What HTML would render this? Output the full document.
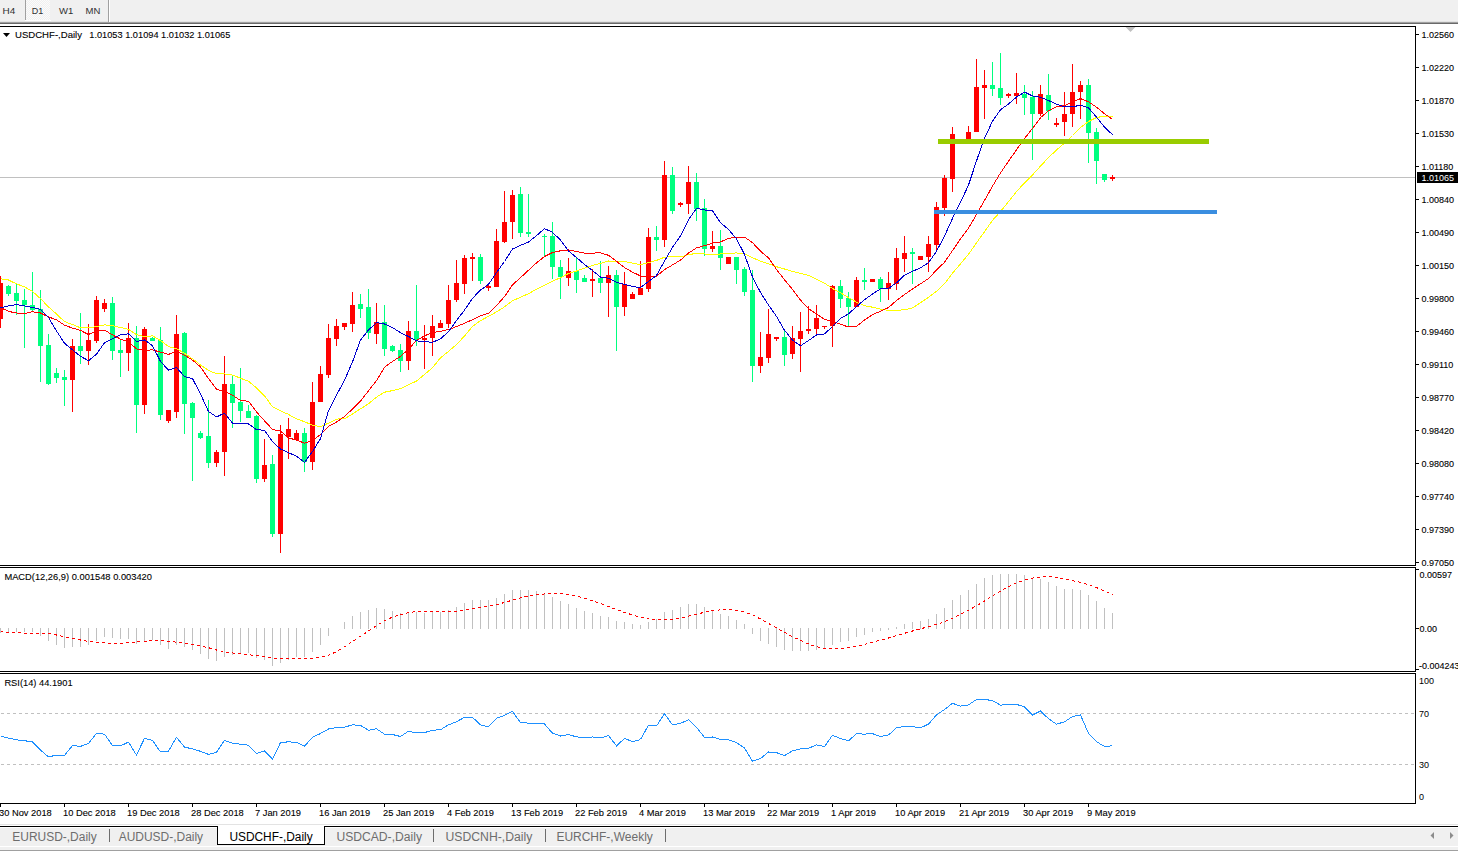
<!DOCTYPE html>
<html><head><meta charset="utf-8"><title>USDCHF Daily</title>
<style>html,body{margin:0;padding:0;background:#fff;width:1458px;height:851px;overflow:hidden} svg{display:block}</style>
</head><body><svg width="1458" height="851" viewBox="0 0 1458 851"><rect x="0" y="0" width="1458" height="851" fill="#ffffff"/>
<rect x="0" y="0" width="1458" height="21" fill="#f0f0f0"/>
<rect x="0" y="21" width="1458" height="1" fill="#e3e3e3"/>
<rect x="0" y="22" width="1458" height="1" fill="#a0a0a0"/>
<rect x="0" y="23" width="1458" height="1" fill="#696969"/>
<defs><pattern id="dith" width="2" height="2" patternUnits="userSpaceOnUse"><rect width="2" height="2" fill="#f0f0f0"/><rect width="1" height="1" fill="#fbfbfb"/><rect x="1" y="1" width="1" height="1" fill="#fbfbfb"/></pattern></defs>
<rect x="26" y="0" width="24" height="20" fill="url(#dith)"/>
<rect x="25" y="0" width="1" height="20" fill="#a0a0a0"/>
<rect x="25" y="20" width="26" height="1" fill="#ffffff"/>
<rect x="108" y="0" width="1" height="22" fill="#a0a0a0"/>
<rect x="109" y="0" width="1" height="22" fill="#ffffff"/>
<text x="2.5" y="14" font-family="Liberation Sans" font-size="9.6" fill="#303030" textLength="12.7" lengthAdjust="spacingAndGlyphs">H4</text>
<text x="31.7" y="14" font-family="Liberation Sans" font-size="9.6" fill="#303030" textLength="11.5" lengthAdjust="spacingAndGlyphs">D1</text>
<text x="59" y="14" font-family="Liberation Sans" font-size="9.6" fill="#303030" textLength="14.3" lengthAdjust="spacingAndGlyphs">W1</text>
<text x="85.6" y="14" font-family="Liberation Sans" font-size="9.6" fill="#303030" textLength="14.8" lengthAdjust="spacingAndGlyphs">MN</text>
<rect x="0" y="26" width="1416" height="1" fill="#000"/>
<rect x="1415" y="26" width="1" height="540" fill="#000"/>
<rect x="0" y="565" width="1416" height="1" fill="#000"/>
<rect x="0" y="567" width="1416" height="1" fill="#000"/>
<rect x="1415" y="567" width="1" height="105" fill="#000"/>
<rect x="0" y="671" width="1416" height="1" fill="#000"/>
<rect x="0" y="673" width="1416" height="1" fill="#000"/>
<rect x="1415" y="673" width="1" height="131" fill="#000"/>
<rect x="0" y="803" width="1416" height="1" fill="#000"/>
<polygon points="1125.5,27 1135.5,27 1130.5,32" fill="#c0c0c0"/>
<polygon points="3,33 10,33 6.5,37" fill="#000"/>
<text x="15" y="38" font-family="Liberation Sans" font-size="9.6" fill="#000" stroke="#000" stroke-width="0.1" textLength="67" lengthAdjust="spacingAndGlyphs">USDCHF-,Daily</text>
<text x="89.3" y="38" font-family="Liberation Sans" font-size="9.3" fill="#000" stroke="#000" stroke-width="0.1" textLength="141" lengthAdjust="spacingAndGlyphs">1.01053 1.01094 1.01032 1.01065</text>
<rect x="1416" y="34" width="3" height="1" fill="#000"/>
<text x="1421.5" y="37.5" font-family="Liberation Sans" font-size="9" fill="#000" stroke="#000" stroke-width="0.1">1.02560</text>
<rect x="1416" y="67" width="3" height="1" fill="#000"/>
<text x="1421.5" y="70.5" font-family="Liberation Sans" font-size="9" fill="#000" stroke="#000" stroke-width="0.1">1.02220</text>
<rect x="1416" y="100" width="3" height="1" fill="#000"/>
<text x="1421.5" y="103.5" font-family="Liberation Sans" font-size="9" fill="#000" stroke="#000" stroke-width="0.1">1.01870</text>
<rect x="1416" y="133" width="3" height="1" fill="#000"/>
<text x="1421.5" y="136.5" font-family="Liberation Sans" font-size="9" fill="#000" stroke="#000" stroke-width="0.1">1.01530</text>
<rect x="1416" y="166" width="3" height="1" fill="#000"/>
<text x="1421.5" y="169.5" font-family="Liberation Sans" font-size="9" fill="#000" stroke="#000" stroke-width="0.1">1.01180</text>
<rect x="1416" y="199" width="3" height="1" fill="#000"/>
<text x="1421.5" y="202.5" font-family="Liberation Sans" font-size="9" fill="#000" stroke="#000" stroke-width="0.1">1.00840</text>
<rect x="1416" y="232" width="3" height="1" fill="#000"/>
<text x="1421.5" y="235.5" font-family="Liberation Sans" font-size="9" fill="#000" stroke="#000" stroke-width="0.1">1.00490</text>
<rect x="1416" y="265" width="3" height="1" fill="#000"/>
<text x="1421.5" y="268.5" font-family="Liberation Sans" font-size="9" fill="#000" stroke="#000" stroke-width="0.1">1.00150</text>
<rect x="1416" y="298" width="3" height="1" fill="#000"/>
<text x="1421.5" y="301.5" font-family="Liberation Sans" font-size="9" fill="#000" stroke="#000" stroke-width="0.1">0.99800</text>
<rect x="1416" y="331" width="3" height="1" fill="#000"/>
<text x="1421.5" y="334.5" font-family="Liberation Sans" font-size="9" fill="#000" stroke="#000" stroke-width="0.1">0.99460</text>
<rect x="1416" y="364" width="3" height="1" fill="#000"/>
<text x="1421.5" y="367.5" font-family="Liberation Sans" font-size="9" fill="#000" stroke="#000" stroke-width="0.1">0.99110</text>
<rect x="1416" y="397" width="3" height="1" fill="#000"/>
<text x="1421.5" y="400.5" font-family="Liberation Sans" font-size="9" fill="#000" stroke="#000" stroke-width="0.1">0.98770</text>
<rect x="1416" y="430" width="3" height="1" fill="#000"/>
<text x="1421.5" y="433.5" font-family="Liberation Sans" font-size="9" fill="#000" stroke="#000" stroke-width="0.1">0.98420</text>
<rect x="1416" y="463" width="3" height="1" fill="#000"/>
<text x="1421.5" y="466.5" font-family="Liberation Sans" font-size="9" fill="#000" stroke="#000" stroke-width="0.1">0.98080</text>
<rect x="1416" y="496" width="3" height="1" fill="#000"/>
<text x="1421.5" y="499.5" font-family="Liberation Sans" font-size="9" fill="#000" stroke="#000" stroke-width="0.1">0.97740</text>
<rect x="1416" y="529" width="3" height="1" fill="#000"/>
<text x="1421.5" y="532.5" font-family="Liberation Sans" font-size="9" fill="#000" stroke="#000" stroke-width="0.1">0.97390</text>
<rect x="1416" y="562" width="3" height="1" fill="#000"/>
<text x="1421.5" y="565.5" font-family="Liberation Sans" font-size="9" fill="#000" stroke="#000" stroke-width="0.1">0.97050</text>
<rect x="0" y="177" width="1415" height="1" fill="#c0c0c0"/>
<g shape-rendering="crispEdges"><rect x="0" y="276" width="1" height="52" fill="#ff0000"/><rect x="-2" y="283" width="5" height="36" fill="#ff0000"/><rect x="8" y="285" width="1" height="11" fill="#00ff7f"/><rect x="6" y="286" width="5" height="8" fill="#00ff7f"/><rect x="16" y="284" width="1" height="31" fill="#00ff7f"/><rect x="14" y="293" width="5" height="8" fill="#00ff7f"/><rect x="24" y="289" width="1" height="59" fill="#00ff7f"/><rect x="22" y="300" width="5" height="5" fill="#00ff7f"/><rect x="32" y="272" width="1" height="39" fill="#00ff7f"/><rect x="30" y="305" width="5" height="5" fill="#00ff7f"/><rect x="40" y="290" width="1" height="92" fill="#00ff7f"/><rect x="38" y="309" width="5" height="37" fill="#00ff7f"/><rect x="48" y="334" width="1" height="51" fill="#00ff7f"/><rect x="46" y="345" width="5" height="39" fill="#00ff7f"/><rect x="56" y="368" width="1" height="15" fill="#00ff7f"/><rect x="54" y="373" width="5" height="5" fill="#00ff7f"/><rect x="64" y="370" width="1" height="36" fill="#00ff7f"/><rect x="62" y="377" width="5" height="3" fill="#00ff7f"/><rect x="72" y="339" width="1" height="73" fill="#ff0000"/><rect x="70" y="346" width="5" height="34" fill="#ff0000"/><rect x="80" y="313" width="1" height="51" fill="#00ff7f"/><rect x="78" y="346" width="5" height="5" fill="#00ff7f"/><rect x="88" y="324" width="1" height="41" fill="#ff0000"/><rect x="86" y="340" width="5" height="11" fill="#ff0000"/><rect x="96" y="296" width="1" height="47" fill="#ff0000"/><rect x="94" y="300" width="5" height="41" fill="#ff0000"/><rect x="104" y="299" width="1" height="13" fill="#ff0000"/><rect x="102" y="303" width="5" height="6" fill="#ff0000"/><rect x="112" y="297" width="1" height="63" fill="#00ff7f"/><rect x="110" y="303" width="5" height="48" fill="#00ff7f"/><rect x="120" y="340" width="1" height="37" fill="#00ff7f"/><rect x="118" y="350" width="5" height="3" fill="#00ff7f"/><rect x="128" y="323" width="1" height="48" fill="#ff0000"/><rect x="126" y="338" width="5" height="15" fill="#ff0000"/><rect x="136" y="326" width="1" height="107" fill="#00ff7f"/><rect x="134" y="338" width="5" height="67" fill="#00ff7f"/><rect x="144" y="327" width="1" height="87" fill="#ff0000"/><rect x="142" y="329" width="5" height="76" fill="#ff0000"/><rect x="152" y="337" width="1" height="4" fill="#00ff7f"/><rect x="150" y="338" width="5" height="3" fill="#00ff7f"/><rect x="160" y="327" width="1" height="93" fill="#00ff7f"/><rect x="158" y="340" width="5" height="75" fill="#00ff7f"/><rect x="168" y="410" width="1" height="13" fill="#ff0000"/><rect x="166" y="410" width="5" height="11" fill="#ff0000"/><rect x="176" y="315" width="1" height="103" fill="#ff0000"/><rect x="174" y="334" width="5" height="78" fill="#ff0000"/><rect x="184" y="332" width="1" height="102" fill="#00ff7f"/><rect x="182" y="333" width="5" height="71" fill="#00ff7f"/><rect x="192" y="402" width="1" height="79" fill="#00ff7f"/><rect x="190" y="403" width="5" height="15" fill="#00ff7f"/><rect x="200" y="431" width="1" height="8" fill="#00ff7f"/><rect x="198" y="433" width="5" height="5" fill="#00ff7f"/><rect x="208" y="400" width="1" height="68" fill="#00ff7f"/><rect x="206" y="436" width="5" height="27" fill="#00ff7f"/><rect x="216" y="450" width="1" height="17" fill="#ff0000"/><rect x="214" y="452" width="5" height="11" fill="#ff0000"/><rect x="224" y="356" width="1" height="120" fill="#ff0000"/><rect x="222" y="384" width="5" height="68" fill="#ff0000"/><rect x="232" y="376" width="1" height="52" fill="#00ff7f"/><rect x="230" y="384" width="5" height="19" fill="#00ff7f"/><rect x="240" y="368" width="1" height="54" fill="#00ff7f"/><rect x="238" y="402" width="5" height="9" fill="#00ff7f"/><rect x="248" y="405" width="1" height="13" fill="#00ff7f"/><rect x="246" y="411" width="5" height="7" fill="#00ff7f"/><rect x="256" y="415" width="1" height="68" fill="#00ff7f"/><rect x="254" y="416" width="5" height="63" fill="#00ff7f"/><rect x="264" y="439" width="1" height="43" fill="#ff0000"/><rect x="262" y="465" width="5" height="14" fill="#ff0000"/><rect x="272" y="455" width="1" height="82" fill="#00ff7f"/><rect x="270" y="464" width="5" height="70" fill="#00ff7f"/><rect x="280" y="425" width="1" height="128" fill="#ff0000"/><rect x="278" y="434" width="5" height="100" fill="#ff0000"/><rect x="288" y="418" width="1" height="41" fill="#ff0000"/><rect x="286" y="429" width="5" height="8" fill="#ff0000"/><rect x="296" y="430" width="1" height="10" fill="#ff0000"/><rect x="294" y="433" width="5" height="7" fill="#ff0000"/><rect x="304" y="428" width="1" height="44" fill="#00ff7f"/><rect x="302" y="433" width="5" height="29" fill="#00ff7f"/><rect x="312" y="382" width="1" height="88" fill="#ff0000"/><rect x="310" y="402" width="5" height="60" fill="#ff0000"/><rect x="320" y="366" width="1" height="36" fill="#ff0000"/><rect x="318" y="374" width="5" height="28" fill="#ff0000"/><rect x="328" y="324" width="1" height="54" fill="#ff0000"/><rect x="326" y="338" width="5" height="37" fill="#ff0000"/><rect x="336" y="319" width="1" height="27" fill="#ff0000"/><rect x="334" y="326" width="5" height="13" fill="#ff0000"/><rect x="344" y="323" width="1" height="7" fill="#ff0000"/><rect x="342" y="323" width="5" height="4" fill="#ff0000"/><rect x="352" y="292" width="1" height="40" fill="#ff0000"/><rect x="350" y="305" width="5" height="19" fill="#ff0000"/><rect x="360" y="294" width="1" height="24" fill="#00ff7f"/><rect x="358" y="304" width="5" height="5" fill="#00ff7f"/><rect x="368" y="289" width="1" height="50" fill="#00ff7f"/><rect x="366" y="307" width="5" height="26" fill="#00ff7f"/><rect x="376" y="303" width="1" height="41" fill="#ff0000"/><rect x="374" y="322" width="5" height="12" fill="#ff0000"/><rect x="384" y="305" width="1" height="51" fill="#00ff7f"/><rect x="382" y="322" width="5" height="27" fill="#00ff7f"/><rect x="392" y="345" width="1" height="7" fill="#00ff7f"/><rect x="390" y="346" width="5" height="5" fill="#00ff7f"/><rect x="400" y="344" width="1" height="28" fill="#00ff7f"/><rect x="398" y="350" width="5" height="11" fill="#00ff7f"/><rect x="408" y="321" width="1" height="49" fill="#ff0000"/><rect x="406" y="331" width="5" height="30" fill="#ff0000"/><rect x="416" y="285" width="1" height="61" fill="#00ff7f"/><rect x="414" y="331" width="5" height="9" fill="#00ff7f"/><rect x="424" y="325" width="1" height="44" fill="#ff0000"/><rect x="422" y="338" width="5" height="2" fill="#ff0000"/><rect x="432" y="315" width="1" height="41" fill="#ff0000"/><rect x="430" y="326" width="5" height="12" fill="#ff0000"/><rect x="440" y="320" width="1" height="8" fill="#ff0000"/><rect x="438" y="323" width="5" height="5" fill="#ff0000"/><rect x="448" y="285" width="1" height="43" fill="#ff0000"/><rect x="446" y="300" width="5" height="24" fill="#ff0000"/><rect x="456" y="260" width="1" height="42" fill="#ff0000"/><rect x="454" y="283" width="5" height="17" fill="#ff0000"/><rect x="464" y="255" width="1" height="39" fill="#ff0000"/><rect x="462" y="258" width="5" height="26" fill="#ff0000"/><rect x="472" y="253" width="1" height="28" fill="#ff0000"/><rect x="470" y="257" width="5" height="2" fill="#ff0000"/><rect x="480" y="254" width="1" height="30" fill="#00ff7f"/><rect x="478" y="257" width="5" height="24" fill="#00ff7f"/><rect x="488" y="285" width="1" height="6" fill="#ff0000"/><rect x="486" y="286" width="5" height="2" fill="#ff0000"/><rect x="496" y="229" width="1" height="58" fill="#ff0000"/><rect x="494" y="241" width="5" height="46" fill="#ff0000"/><rect x="504" y="191" width="1" height="52" fill="#ff0000"/><rect x="502" y="222" width="5" height="20" fill="#ff0000"/><rect x="512" y="190" width="1" height="49" fill="#ff0000"/><rect x="510" y="195" width="5" height="27" fill="#ff0000"/><rect x="520" y="187" width="1" height="50" fill="#00ff7f"/><rect x="518" y="194" width="5" height="39" fill="#00ff7f"/><rect x="528" y="194" width="1" height="43" fill="#00ff7f"/><rect x="526" y="232" width="5" height="2" fill="#00ff7f"/><rect x="544" y="234" width="1" height="23" fill="#00ff7f"/><rect x="542" y="236" width="5" height="1" fill="#00ff7f"/><rect x="552" y="222" width="1" height="57" fill="#00ff7f"/><rect x="550" y="236" width="5" height="31" fill="#00ff7f"/><rect x="560" y="260" width="1" height="39" fill="#00ff7f"/><rect x="558" y="267" width="5" height="10" fill="#00ff7f"/><rect x="568" y="258" width="1" height="28" fill="#ff0000"/><rect x="566" y="271" width="5" height="7" fill="#ff0000"/><rect x="576" y="258" width="1" height="35" fill="#00ff7f"/><rect x="574" y="271" width="5" height="9" fill="#00ff7f"/><rect x="584" y="275" width="1" height="7" fill="#00ff7f"/><rect x="582" y="278" width="5" height="4" fill="#00ff7f"/><rect x="592" y="269" width="1" height="28" fill="#ff0000"/><rect x="590" y="279" width="5" height="2" fill="#ff0000"/><rect x="600" y="261" width="1" height="32" fill="#00ff7f"/><rect x="598" y="278" width="5" height="5" fill="#00ff7f"/><rect x="608" y="266" width="1" height="51" fill="#ff0000"/><rect x="606" y="275" width="5" height="8" fill="#ff0000"/><rect x="616" y="270" width="1" height="81" fill="#00ff7f"/><rect x="614" y="275" width="5" height="32" fill="#00ff7f"/><rect x="624" y="272" width="1" height="44" fill="#ff0000"/><rect x="622" y="284" width="5" height="23" fill="#ff0000"/><rect x="632" y="292" width="1" height="7" fill="#ff0000"/><rect x="630" y="294" width="5" height="5" fill="#ff0000"/><rect x="640" y="261" width="1" height="34" fill="#ff0000"/><rect x="638" y="288" width="5" height="7" fill="#ff0000"/><rect x="648" y="228" width="1" height="64" fill="#ff0000"/><rect x="646" y="237" width="5" height="52" fill="#ff0000"/><rect x="656" y="226" width="1" height="25" fill="#00ff7f"/><rect x="654" y="237" width="5" height="3" fill="#00ff7f"/><rect x="664" y="161" width="1" height="86" fill="#ff0000"/><rect x="662" y="175" width="5" height="65" fill="#ff0000"/><rect x="672" y="167" width="1" height="47" fill="#00ff7f"/><rect x="670" y="175" width="5" height="36" fill="#00ff7f"/><rect x="680" y="202" width="1" height="5" fill="#ff0000"/><rect x="678" y="203" width="5" height="2" fill="#ff0000"/><rect x="688" y="166" width="1" height="48" fill="#ff0000"/><rect x="686" y="182" width="5" height="22" fill="#ff0000"/><rect x="696" y="173" width="1" height="48" fill="#00ff7f"/><rect x="694" y="182" width="5" height="27" fill="#00ff7f"/><rect x="704" y="199" width="1" height="57" fill="#00ff7f"/><rect x="702" y="208" width="5" height="41" fill="#00ff7f"/><rect x="712" y="231" width="1" height="21" fill="#ff0000"/><rect x="710" y="246" width="5" height="3" fill="#ff0000"/><rect x="720" y="230" width="1" height="40" fill="#00ff7f"/><rect x="718" y="246" width="5" height="12" fill="#00ff7f"/><rect x="728" y="257" width="1" height="7" fill="#ff0000"/><rect x="726" y="257" width="5" height="7" fill="#ff0000"/><rect x="736" y="257" width="1" height="27" fill="#00ff7f"/><rect x="734" y="257" width="5" height="13" fill="#00ff7f"/><rect x="744" y="267" width="1" height="29" fill="#00ff7f"/><rect x="742" y="269" width="5" height="23" fill="#00ff7f"/><rect x="752" y="270" width="1" height="112" fill="#00ff7f"/><rect x="750" y="290" width="5" height="76" fill="#00ff7f"/><rect x="760" y="332" width="1" height="41" fill="#ff0000"/><rect x="758" y="357" width="5" height="9" fill="#ff0000"/><rect x="768" y="309" width="1" height="54" fill="#ff0000"/><rect x="766" y="334" width="5" height="24" fill="#ff0000"/><rect x="776" y="337" width="1" height="4" fill="#ff0000"/><rect x="774" y="337" width="5" height="2" fill="#ff0000"/><rect x="784" y="330" width="1" height="36" fill="#00ff7f"/><rect x="782" y="337" width="5" height="18" fill="#00ff7f"/><rect x="792" y="326" width="1" height="33" fill="#ff0000"/><rect x="790" y="338" width="5" height="16" fill="#ff0000"/><rect x="800" y="312" width="1" height="60" fill="#ff0000"/><rect x="798" y="331" width="5" height="8" fill="#ff0000"/><rect x="808" y="306" width="1" height="28" fill="#ff0000"/><rect x="806" y="329" width="5" height="2" fill="#ff0000"/><rect x="816" y="305" width="1" height="29" fill="#ff0000"/><rect x="814" y="318" width="5" height="11" fill="#ff0000"/><rect x="824" y="326" width="1" height="3" fill="#ff0000"/><rect x="822" y="326" width="5" height="1" fill="#ff0000"/><rect x="832" y="285" width="1" height="62" fill="#ff0000"/><rect x="830" y="286" width="5" height="40" fill="#ff0000"/><rect x="840" y="280" width="1" height="28" fill="#00ff7f"/><rect x="838" y="286" width="5" height="13" fill="#00ff7f"/><rect x="848" y="292" width="1" height="34" fill="#00ff7f"/><rect x="846" y="298" width="5" height="9" fill="#00ff7f"/><rect x="856" y="277" width="1" height="30" fill="#ff0000"/><rect x="854" y="280" width="5" height="27" fill="#ff0000"/><rect x="864" y="268" width="1" height="22" fill="#00ff7f"/><rect x="862" y="280" width="5" height="2" fill="#00ff7f"/><rect x="872" y="279" width="1" height="3" fill="#ff0000"/><rect x="870" y="279" width="5" height="3" fill="#ff0000"/><rect x="880" y="277" width="1" height="25" fill="#00ff7f"/><rect x="878" y="279" width="5" height="10" fill="#00ff7f"/><rect x="888" y="272" width="1" height="28" fill="#ff0000"/><rect x="886" y="283" width="5" height="6" fill="#ff0000"/><rect x="896" y="248" width="1" height="42" fill="#ff0000"/><rect x="894" y="258" width="5" height="26" fill="#ff0000"/><rect x="904" y="236" width="1" height="36" fill="#ff0000"/><rect x="902" y="253" width="5" height="6" fill="#ff0000"/><rect x="912" y="248" width="1" height="36" fill="#00ff7f"/><rect x="910" y="252" width="5" height="2" fill="#00ff7f"/><rect x="920" y="256" width="1" height="4" fill="#ff0000"/><rect x="918" y="256" width="5" height="4" fill="#ff0000"/><rect x="928" y="236" width="1" height="36" fill="#ff0000"/><rect x="926" y="244" width="5" height="13" fill="#ff0000"/><rect x="936" y="202" width="1" height="48" fill="#ff0000"/><rect x="934" y="207" width="5" height="38" fill="#ff0000"/><rect x="944" y="175" width="1" height="41" fill="#ff0000"/><rect x="942" y="178" width="5" height="30" fill="#ff0000"/><rect x="952" y="127" width="1" height="65" fill="#ff0000"/><rect x="950" y="134" width="5" height="45" fill="#ff0000"/><rect x="968" y="126" width="1" height="17" fill="#ff0000"/><rect x="966" y="132" width="5" height="11" fill="#ff0000"/><rect x="976" y="59" width="1" height="73" fill="#ff0000"/><rect x="974" y="87" width="5" height="45" fill="#ff0000"/><rect x="984" y="70" width="1" height="49" fill="#ff0000"/><rect x="982" y="85" width="5" height="3" fill="#ff0000"/><rect x="992" y="62" width="1" height="34" fill="#00ff7f"/><rect x="990" y="85" width="5" height="4" fill="#00ff7f"/><rect x="1000" y="53" width="1" height="52" fill="#00ff7f"/><rect x="998" y="88" width="5" height="10" fill="#00ff7f"/><rect x="1008" y="93" width="1" height="5" fill="#ff0000"/><rect x="1006" y="94" width="5" height="2" fill="#ff0000"/><rect x="1016" y="73" width="1" height="31" fill="#ff0000"/><rect x="1014" y="93" width="5" height="3" fill="#ff0000"/><rect x="1024" y="85" width="1" height="30" fill="#00ff7f"/><rect x="1022" y="94" width="5" height="4" fill="#00ff7f"/><rect x="1032" y="91" width="1" height="69" fill="#00ff7f"/><rect x="1030" y="97" width="5" height="17" fill="#00ff7f"/><rect x="1040" y="85" width="1" height="31" fill="#ff0000"/><rect x="1038" y="94" width="5" height="20" fill="#ff0000"/><rect x="1048" y="74" width="1" height="46" fill="#00ff7f"/><rect x="1046" y="95" width="5" height="16" fill="#00ff7f"/><rect x="1056" y="118" width="1" height="9" fill="#ff0000"/><rect x="1054" y="123" width="5" height="2" fill="#ff0000"/><rect x="1064" y="92" width="1" height="44" fill="#ff0000"/><rect x="1062" y="114" width="5" height="8" fill="#ff0000"/><rect x="1072" y="64" width="1" height="63" fill="#ff0000"/><rect x="1070" y="92" width="5" height="22" fill="#ff0000"/><rect x="1080" y="81" width="1" height="38" fill="#ff0000"/><rect x="1078" y="85" width="5" height="7" fill="#ff0000"/><rect x="1088" y="79" width="1" height="84" fill="#00ff7f"/><rect x="1086" y="85" width="5" height="48" fill="#00ff7f"/><rect x="1096" y="128" width="1" height="56" fill="#00ff7f"/><rect x="1094" y="132" width="5" height="29" fill="#00ff7f"/><rect x="1104" y="174" width="1" height="8" fill="#00ff7f"/><rect x="1102" y="174" width="5" height="6" fill="#00ff7f"/><rect x="1112" y="175" width="1" height="6" fill="#ff0000"/><rect x="1110" y="177" width="5" height="2" fill="#ff0000"/></g>
<polyline points="0.5,278.8 8.5,280.0 16.5,283.9 24.5,286.8 32.5,291.4 40.5,298.7 48.5,306.9 56.5,314.0 64.5,321.6 72.5,324.5 80.5,327.8 88.5,327.8 96.5,326.7 104.5,324.8 112.5,325.7 120.5,327.5 128.5,329.3 136.5,334.6 144.5,336.7 152.5,335.8 160.5,340.6 168.5,346.6 176.5,348.5 184.5,353.4 192.5,358.8 200.5,364.9 208.5,370.4 216.5,373.7 224.5,374.0 232.5,375.1 240.5,378.2 248.5,381.3 256.5,387.9 264.5,395.8 272.5,406.8 280.5,410.8 288.5,414.4 296.5,418.9 304.5,421.7 312.5,425.1 320.5,426.8 328.5,423.1 336.5,419.1 344.5,418.7 352.5,414.0 360.5,408.8 368.5,403.8 376.5,397.1 384.5,392.2 392.5,390.6 400.5,388.6 408.5,384.8 416.5,381.1 424.5,374.4 432.5,367.8 440.5,357.8 448.5,351.4 456.5,344.5 464.5,336.1 472.5,326.4 480.5,320.6 488.5,316.4 496.5,311.8 504.5,306.9 512.5,300.8 520.5,297.3 528.5,293.7 536.5,289.2 544.5,285.1 552.5,281.2 560.5,277.7 568.5,273.5 576.5,271.0 584.5,268.2 592.5,265.4 600.5,263.4 608.5,261.0 616.5,261.3 624.5,261.4 632.5,263.1 640.5,264.6 648.5,262.6 656.5,260.4 664.5,257.2 672.5,256.6 680.5,257.0 688.5,254.6 696.5,253.4 704.5,254.0 712.5,254.4 720.5,254.0 728.5,253.1 736.5,253.0 744.5,253.6 752.5,257.6 760.5,261.3 768.5,263.7 776.5,266.7 784.5,269.0 792.5,271.5 800.5,273.3 808.5,275.3 816.5,279.1 824.5,283.2 832.5,288.5 840.5,292.7 848.5,297.6 856.5,302.2 864.5,305.7 872.5,307.2 880.5,309.2 888.5,310.4 896.5,310.5 904.5,309.7 912.5,307.9 920.5,302.7 928.5,297.3 936.5,291.3 944.5,283.7 952.5,273.2 960.5,263.8 968.5,254.4 976.5,242.8 984.5,231.7 992.5,220.4 1000.5,211.4 1008.5,201.7 1016.5,191.6 1024.5,182.9 1032.5,174.9 1040.5,166.1 1048.5,157.6 1056.5,150.0 1064.5,143.1 1072.5,135.5 1080.5,127.4 1088.5,121.5 1096.5,117.5 1104.5,116.2 1112.5,116.2" fill="none" stroke="#ffff00" stroke-width="1" shape-rendering="crispEdges" />
<polyline points="0.5,307.5 8.5,311.4 16.5,313.0 24.5,313.7 32.5,311.7 40.5,313.0 48.5,316.9 56.5,319.9 64.5,325.1 72.5,328.1 80.5,330.4 88.5,334.5 96.5,331.0 104.5,330.1 112.5,334.9 120.5,339.1 128.5,341.8 136.5,348.9 144.5,350.3 152.5,349.9 160.5,352.1 168.5,354.4 176.5,351.2 184.5,355.2 192.5,360.1 200.5,367.0 208.5,378.6 216.5,389.2 224.5,391.6 232.5,395.2 240.5,400.4 248.5,401.3 256.5,411.9 264.5,420.8 272.5,429.4 280.5,431.1 288.5,437.9 296.5,440.1 304.5,443.2 312.5,440.7 320.5,434.4 328.5,426.3 336.5,422.1 344.5,416.5 352.5,409.0 360.5,401.2 368.5,390.8 376.5,380.6 384.5,367.3 392.5,361.4 400.5,356.4 408.5,349.2 416.5,340.5 424.5,335.9 432.5,332.4 440.5,331.4 448.5,329.5 456.5,326.6 464.5,323.3 472.5,319.6 480.5,315.9 488.5,313.3 496.5,305.7 504.5,296.6 512.5,284.8 520.5,277.7 528.5,270.2 536.5,262.9 544.5,256.5 552.5,252.5 560.5,250.8 568.5,249.9 576.5,251.4 584.5,253.2 592.5,253.1 600.5,252.8 608.5,255.3 616.5,261.3 624.5,267.6 632.5,272.1 640.5,276.0 648.5,276.0 656.5,276.2 664.5,269.7 672.5,264.9 680.5,260.1 688.5,253.1 696.5,247.9 704.5,245.7 712.5,243.1 720.5,241.9 728.5,238.4 736.5,237.3 744.5,237.1 752.5,242.6 760.5,251.2 768.5,257.9 776.5,269.5 784.5,279.8 792.5,289.4 800.5,300.1 808.5,308.8 816.5,313.8 824.5,319.4 832.5,321.4 840.5,324.3 848.5,327.0 856.5,326.2 864.5,320.1 872.5,314.6 880.5,311.3 888.5,307.5 896.5,300.6 904.5,294.6 912.5,289.0 920.5,283.8 928.5,278.5 936.5,270.0 944.5,262.3 952.5,250.6 960.5,238.8 968.5,228.2 976.5,214.4 984.5,200.5 992.5,186.2 1000.5,172.9 1008.5,161.2 1016.5,149.8 1024.5,138.6 1032.5,128.4 1040.5,117.7 1048.5,110.8 1056.5,106.9 1064.5,105.5 1072.5,102.0 1080.5,98.6 1088.5,101.8 1096.5,107.2 1104.5,113.7 1112.5,119.4" fill="none" stroke="#ff0000" stroke-width="1" shape-rendering="crispEdges" />
<polyline points="0.5,307.8 8.5,305.9 16.5,304.6 24.5,305.9 32.5,307.5 40.5,309.3 48.5,317.5 56.5,330.9 64.5,343.2 72.5,349.8 80.5,356.3 88.5,360.7 96.5,354.2 104.5,342.7 112.5,338.8 120.5,334.9 128.5,333.8 136.5,341.5 144.5,339.9 152.5,345.7 160.5,361.5 168.5,370.1 176.5,367.5 184.5,376.7 192.5,378.6 200.5,394.0 208.5,411.5 216.5,416.9 224.5,413.2 232.5,423.0 240.5,424.0 248.5,423.9 256.5,429.8 264.5,430.2 272.5,441.8 280.5,449.0 288.5,452.8 296.5,456.1 304.5,462.4 312.5,451.6 320.5,438.6 328.5,410.7 336.5,395.2 344.5,380.2 352.5,361.9 360.5,340.0 368.5,330.0 376.5,322.6 384.5,324.0 392.5,327.5 400.5,332.7 408.5,336.5 416.5,340.9 424.5,341.7 432.5,342.3 440.5,338.8 448.5,331.6 456.5,320.6 464.5,310.1 472.5,298.3 480.5,290.1 488.5,284.4 496.5,272.6 504.5,261.5 512.5,249.0 520.5,245.3 528.5,242.0 536.5,235.7 544.5,228.6 552.5,232.3 560.5,240.1 568.5,250.9 576.5,257.6 584.5,264.4 592.5,270.5 600.5,277.1 608.5,278.2 616.5,282.4 624.5,284.4 632.5,286.5 640.5,287.6 648.5,281.5 656.5,275.4 664.5,261.1 672.5,247.4 680.5,235.8 688.5,219.7 696.5,208.3 704.5,209.9 712.5,210.9 720.5,222.6 728.5,229.4 736.5,238.8 744.5,254.4 752.5,276.9 760.5,292.5 768.5,305.0 776.5,316.4 784.5,330.2 792.5,340.0 800.5,345.8 808.5,340.6 816.5,335.0 824.5,333.9 832.5,326.5 840.5,318.5 848.5,313.9 856.5,306.6 864.5,299.7 872.5,294.1 880.5,288.8 888.5,288.4 896.5,282.8 904.5,275.2 912.5,271.4 920.5,267.8 928.5,262.8 936.5,251.2 944.5,236.1 952.5,218.4 960.5,202.4 968.5,185.1 976.5,160.9 984.5,138.2 992.5,121.2 1000.5,109.7 1008.5,104.0 1016.5,97.1 1024.5,92.1 1032.5,95.9 1040.5,97.3 1048.5,100.5 1056.5,104.1 1064.5,107.0 1072.5,106.9 1080.5,105.1 1088.5,107.8 1096.5,117.2 1104.5,127.0 1112.5,134.7" fill="none" stroke="#0000cd" stroke-width="1" shape-rendering="crispEdges" />
<rect x="938" y="139" width="271" height="5" fill="#99cc00"/>
<rect x="934" y="210" width="283" height="4" fill="#3a8ee0"/>
<rect x="1417" y="172" width="41" height="11" fill="#000"/>
<text x="1421.5" y="180.8" font-family="Liberation Sans" font-size="9" fill="#fff">1.01065</text>
<text x="4.4" y="580" font-family="Liberation Sans" font-size="9.3" fill="#000" stroke="#000" stroke-width="0.1" textLength="147.6" lengthAdjust="spacingAndGlyphs">MACD(12,26,9) 0.001548 0.003420</text>
<g shape-rendering="crispEdges"><rect x="0" y="628" width="1" height="5" fill="#c0c0c0"/><rect x="8" y="628" width="1" height="4" fill="#c0c0c0"/><rect x="16" y="628" width="1" height="4" fill="#c0c0c0"/><rect x="24" y="628" width="1" height="4" fill="#c0c0c0"/><rect x="32" y="628" width="1" height="4" fill="#c0c0c0"/><rect x="40" y="628" width="1" height="8" fill="#c0c0c0"/><rect x="48" y="628" width="1" height="13" fill="#c0c0c0"/><rect x="56" y="628" width="1" height="17" fill="#c0c0c0"/><rect x="64" y="628" width="1" height="20" fill="#c0c0c0"/><rect x="72" y="628" width="1" height="19" fill="#c0c0c0"/><rect x="80" y="628" width="1" height="19" fill="#c0c0c0"/><rect x="88" y="628" width="1" height="17" fill="#c0c0c0"/><rect x="96" y="628" width="1" height="13" fill="#c0c0c0"/><rect x="104" y="628" width="1" height="9" fill="#c0c0c0"/><rect x="112" y="628" width="1" height="10" fill="#c0c0c0"/><rect x="120" y="628" width="1" height="11" fill="#c0c0c0"/><rect x="128" y="628" width="1" height="11" fill="#c0c0c0"/><rect x="136" y="628" width="1" height="16" fill="#c0c0c0"/><rect x="144" y="628" width="1" height="13" fill="#c0c0c0"/><rect x="152" y="628" width="1" height="12" fill="#c0c0c0"/><rect x="160" y="628" width="1" height="17" fill="#c0c0c0"/><rect x="168" y="628" width="1" height="21" fill="#c0c0c0"/><rect x="176" y="628" width="1" height="17" fill="#c0c0c0"/><rect x="184" y="628" width="1" height="19" fill="#c0c0c0"/><rect x="192" y="628" width="1" height="22" fill="#c0c0c0"/><rect x="200" y="628" width="1" height="26" fill="#c0c0c0"/><rect x="208" y="628" width="1" height="31" fill="#c0c0c0"/><rect x="216" y="628" width="1" height="33" fill="#c0c0c0"/><rect x="224" y="628" width="1" height="29" fill="#c0c0c0"/><rect x="232" y="628" width="1" height="27" fill="#c0c0c0"/><rect x="240" y="628" width="1" height="26" fill="#c0c0c0"/><rect x="248" y="628" width="1" height="25" fill="#c0c0c0"/><rect x="256" y="628" width="1" height="30" fill="#c0c0c0"/><rect x="264" y="628" width="1" height="32" fill="#c0c0c0"/><rect x="272" y="628" width="1" height="38" fill="#c0c0c0"/><rect x="280" y="628" width="1" height="35" fill="#c0c0c0"/><rect x="288" y="628" width="1" height="32" fill="#c0c0c0"/><rect x="296" y="628" width="1" height="29" fill="#c0c0c0"/><rect x="304" y="628" width="1" height="29" fill="#c0c0c0"/><rect x="312" y="628" width="1" height="24" fill="#c0c0c0"/><rect x="320" y="628" width="1" height="17" fill="#c0c0c0"/><rect x="328" y="628" width="1" height="8" fill="#c0c0c0"/><rect x="336" y="629" width="1" height="0" fill="#c0c0c0"/><rect x="344" y="622" width="1" height="7" fill="#c0c0c0"/><rect x="352" y="616" width="1" height="13" fill="#c0c0c0"/><rect x="360" y="612" width="1" height="17" fill="#c0c0c0"/><rect x="368" y="610" width="1" height="19" fill="#c0c0c0"/><rect x="376" y="608" width="1" height="21" fill="#c0c0c0"/><rect x="384" y="609" width="1" height="20" fill="#c0c0c0"/><rect x="392" y="611" width="1" height="18" fill="#c0c0c0"/><rect x="400" y="613" width="1" height="16" fill="#c0c0c0"/><rect x="408" y="612" width="1" height="17" fill="#c0c0c0"/><rect x="416" y="612" width="1" height="17" fill="#c0c0c0"/><rect x="424" y="613" width="1" height="16" fill="#c0c0c0"/><rect x="432" y="612" width="1" height="17" fill="#c0c0c0"/><rect x="440" y="612" width="1" height="17" fill="#c0c0c0"/><rect x="448" y="610" width="1" height="19" fill="#c0c0c0"/><rect x="456" y="607" width="1" height="22" fill="#c0c0c0"/><rect x="464" y="603" width="1" height="26" fill="#c0c0c0"/><rect x="472" y="600" width="1" height="29" fill="#c0c0c0"/><rect x="480" y="600" width="1" height="29" fill="#c0c0c0"/><rect x="488" y="600" width="1" height="29" fill="#c0c0c0"/><rect x="496" y="598" width="1" height="31" fill="#c0c0c0"/><rect x="504" y="594" width="1" height="35" fill="#c0c0c0"/><rect x="512" y="590" width="1" height="39" fill="#c0c0c0"/><rect x="520" y="590" width="1" height="39" fill="#c0c0c0"/><rect x="528" y="590" width="1" height="39" fill="#c0c0c0"/><rect x="536" y="591" width="1" height="38" fill="#c0c0c0"/><rect x="544" y="593" width="1" height="36" fill="#c0c0c0"/><rect x="552" y="597" width="1" height="32" fill="#c0c0c0"/><rect x="560" y="601" width="1" height="28" fill="#c0c0c0"/><rect x="568" y="604" width="1" height="25" fill="#c0c0c0"/><rect x="576" y="608" width="1" height="21" fill="#c0c0c0"/><rect x="584" y="611" width="1" height="18" fill="#c0c0c0"/><rect x="592" y="613" width="1" height="16" fill="#c0c0c0"/><rect x="600" y="616" width="1" height="13" fill="#c0c0c0"/><rect x="608" y="617" width="1" height="12" fill="#c0c0c0"/><rect x="616" y="621" width="1" height="8" fill="#c0c0c0"/><rect x="624" y="622" width="1" height="7" fill="#c0c0c0"/><rect x="632" y="624" width="1" height="5" fill="#c0c0c0"/><rect x="640" y="625" width="1" height="4" fill="#c0c0c0"/><rect x="648" y="622" width="1" height="7" fill="#c0c0c0"/><rect x="656" y="619" width="1" height="10" fill="#c0c0c0"/><rect x="664" y="612" width="1" height="17" fill="#c0c0c0"/><rect x="672" y="610" width="1" height="19" fill="#c0c0c0"/><rect x="680" y="607" width="1" height="22" fill="#c0c0c0"/><rect x="688" y="604" width="1" height="25" fill="#c0c0c0"/><rect x="696" y="604" width="1" height="25" fill="#c0c0c0"/><rect x="704" y="607" width="1" height="22" fill="#c0c0c0"/><rect x="712" y="610" width="1" height="19" fill="#c0c0c0"/><rect x="720" y="614" width="1" height="15" fill="#c0c0c0"/><rect x="728" y="616" width="1" height="13" fill="#c0c0c0"/><rect x="736" y="620" width="1" height="9" fill="#c0c0c0"/><rect x="744" y="624" width="1" height="5" fill="#c0c0c0"/><rect x="752" y="628" width="1" height="6" fill="#c0c0c0"/><rect x="760" y="628" width="1" height="13" fill="#c0c0c0"/><rect x="768" y="628" width="1" height="16" fill="#c0c0c0"/><rect x="776" y="628" width="1" height="19" fill="#c0c0c0"/><rect x="784" y="628" width="1" height="22" fill="#c0c0c0"/><rect x="792" y="628" width="1" height="23" fill="#c0c0c0"/><rect x="800" y="628" width="1" height="23" fill="#c0c0c0"/><rect x="808" y="628" width="1" height="23" fill="#c0c0c0"/><rect x="816" y="628" width="1" height="22" fill="#c0c0c0"/><rect x="824" y="628" width="1" height="21" fill="#c0c0c0"/><rect x="832" y="628" width="1" height="17" fill="#c0c0c0"/><rect x="840" y="628" width="1" height="14" fill="#c0c0c0"/><rect x="848" y="628" width="1" height="13" fill="#c0c0c0"/><rect x="856" y="628" width="1" height="9" fill="#c0c0c0"/><rect x="864" y="628" width="1" height="7" fill="#c0c0c0"/><rect x="872" y="628" width="1" height="4" fill="#c0c0c0"/><rect x="880" y="628" width="1" height="3" fill="#c0c0c0"/><rect x="888" y="628" width="1" height="2" fill="#c0c0c0"/><rect x="896" y="627" width="1" height="2" fill="#c0c0c0"/><rect x="904" y="624" width="1" height="5" fill="#c0c0c0"/><rect x="912" y="622" width="1" height="7" fill="#c0c0c0"/><rect x="920" y="621" width="1" height="8" fill="#c0c0c0"/><rect x="928" y="619" width="1" height="10" fill="#c0c0c0"/><rect x="936" y="614" width="1" height="15" fill="#c0c0c0"/><rect x="944" y="608" width="1" height="21" fill="#c0c0c0"/><rect x="952" y="600" width="1" height="29" fill="#c0c0c0"/><rect x="960" y="595" width="1" height="34" fill="#c0c0c0"/><rect x="968" y="590" width="1" height="39" fill="#c0c0c0"/><rect x="976" y="584" width="1" height="45" fill="#c0c0c0"/><rect x="984" y="578" width="1" height="51" fill="#c0c0c0"/><rect x="992" y="575" width="1" height="54" fill="#c0c0c0"/><rect x="1000" y="574" width="1" height="55" fill="#c0c0c0"/><rect x="1008" y="574" width="1" height="55" fill="#c0c0c0"/><rect x="1016" y="574" width="1" height="55" fill="#c0c0c0"/><rect x="1024" y="575" width="1" height="54" fill="#c0c0c0"/><rect x="1032" y="578" width="1" height="51" fill="#c0c0c0"/><rect x="1040" y="579" width="1" height="50" fill="#c0c0c0"/><rect x="1048" y="582" width="1" height="47" fill="#c0c0c0"/><rect x="1056" y="586" width="1" height="43" fill="#c0c0c0"/><rect x="1064" y="589" width="1" height="40" fill="#c0c0c0"/><rect x="1072" y="589" width="1" height="40" fill="#c0c0c0"/><rect x="1080" y="590" width="1" height="39" fill="#c0c0c0"/><rect x="1088" y="595" width="1" height="34" fill="#c0c0c0"/><rect x="1096" y="601" width="1" height="28" fill="#c0c0c0"/><rect x="1104" y="608" width="1" height="21" fill="#c0c0c0"/><rect x="1112" y="613" width="1" height="16" fill="#c0c0c0"/></g>
<polyline points="0.5,631.9 8.5,632.3 16.5,632.7 24.5,633.1 32.5,633.7 40.5,633.7 48.5,633.6 56.5,635.0 64.5,636.8 72.5,638.3 80.5,640.0 88.5,641.5 96.5,642.5 104.5,643.0 112.5,643.4 120.5,643.2 128.5,642.5 136.5,642.0 144.5,641.4 152.5,640.6 160.5,640.6 168.5,641.4 176.5,642.2 184.5,643.2 192.5,644.4 200.5,646.1 208.5,647.7 216.5,650.0 224.5,651.9 232.5,653.0 240.5,653.6 248.5,654.6 256.5,655.7 264.5,656.8 272.5,658.2 280.5,658.6 288.5,658.5 296.5,658.5 304.5,658.7 312.5,658.4 320.5,657.5 328.5,655.1 336.5,651.7 344.5,646.8 352.5,641.6 360.5,636.2 368.5,631.0 376.5,625.6 384.5,620.9 392.5,617.1 400.5,614.5 408.5,612.6 416.5,611.5 424.5,611.1 432.5,611.2 440.5,611.4 448.5,611.5 456.5,611.2 464.5,610.3 472.5,608.9 480.5,607.5 488.5,606.2 496.5,604.5 504.5,602.5 512.5,600.1 520.5,597.9 528.5,596.0 536.5,594.8 544.5,594.0 552.5,593.6 560.5,593.7 568.5,594.4 576.5,595.9 584.5,598.2 592.5,600.8 600.5,603.6 608.5,606.5 616.5,609.6 624.5,612.4 632.5,615.0 640.5,617.3 648.5,618.9 656.5,619.9 664.5,619.8 672.5,619.1 680.5,618.1 688.5,616.2 696.5,614.2 704.5,612.3 712.5,610.7 720.5,609.8 728.5,609.5 736.5,610.3 744.5,612.0 752.5,614.9 760.5,619.0 768.5,623.5 776.5,627.9 784.5,632.4 792.5,636.6 800.5,640.5 808.5,644.0 816.5,646.8 824.5,648.4 832.5,648.8 840.5,648.5 848.5,647.8 856.5,646.3 864.5,644.5 872.5,642.3 880.5,640.1 888.5,638.0 896.5,635.5 904.5,633.3 912.5,631.0 920.5,628.8 928.5,626.7 936.5,624.4 944.5,621.7 952.5,618.2 960.5,614.3 968.5,610.3 976.5,605.8 984.5,601.0 992.5,596.0 1000.5,591.0 1008.5,586.6 1016.5,582.8 1024.5,580.0 1032.5,578.1 1040.5,576.9 1048.5,576.7 1056.5,577.5 1064.5,579.0 1072.5,580.7 1080.5,582.4 1088.5,584.7 1096.5,587.6 1104.5,590.9 1112.5,594.7" fill="none" stroke="#ff0000" stroke-width="1" stroke-dasharray="3,3" shape-rendering="crispEdges"/>
<rect x="1416" y="569" width="3" height="1" fill="#000"/>
<rect x="1416" y="628" width="3" height="1" fill="#000"/>
<rect x="1416" y="669" width="3" height="1" fill="#000"/>
<text x="1419.5" y="578" font-family="Liberation Sans" font-size="9" fill="#000" stroke="#000" stroke-width="0.1">0.00597</text>
<text x="1419.5" y="632" font-family="Liberation Sans" font-size="9" fill="#000" stroke="#000" stroke-width="0.1">0.00</text>
<text x="1419" y="668.5" font-family="Liberation Sans" font-size="9" fill="#000" stroke="#000" stroke-width="0.1">-0.004243</text>
<text x="4.4" y="686" font-family="Liberation Sans" font-size="9.3" fill="#000" stroke="#000" stroke-width="0.1">RSI(14) 44.1901</text>
<line x1="1" y1="713.5" x2="1415" y2="713.5" stroke="#c0c0c0" stroke-width="1" stroke-dasharray="3,3" shape-rendering="crispEdges"/>
<line x1="1" y1="764.5" x2="1415" y2="764.5" stroke="#c0c0c0" stroke-width="1" stroke-dasharray="3,3" shape-rendering="crispEdges"/>
<polyline points="0.5,735.9 8.5,738.2 16.5,739.8 24.5,740.7 32.5,741.9 40.5,750.0 48.5,756.9 56.5,755.1 64.5,755.4 72.5,745.5 80.5,746.4 88.5,743.5 96.5,733.4 104.5,734.1 112.5,745.5 120.5,745.9 128.5,742.1 136.5,755.1 144.5,738.3 152.5,740.4 160.5,752.0 168.5,751.2 176.5,737.3 184.5,747.1 192.5,748.9 200.5,751.3 208.5,754.4 216.5,752.3 224.5,740.4 232.5,743.1 240.5,744.2 248.5,745.2 256.5,753.6 264.5,751.0 272.5,759.0 280.5,742.6 288.5,741.8 296.5,742.4 304.5,746.2 312.5,737.2 320.5,733.5 328.5,729.0 336.5,727.5 344.5,727.2 352.5,724.8 360.5,725.4 368.5,730.3 376.5,728.8 384.5,734.1 392.5,734.5 400.5,736.5 408.5,731.2 416.5,733.0 424.5,732.6 432.5,730.3 440.5,729.7 448.5,724.9 456.5,721.7 464.5,717.4 472.5,717.3 480.5,724.9 488.5,726.8 496.5,718.3 504.5,715.3 512.5,711.4 520.5,722.7 528.5,723.1 536.5,723.8 544.5,724.0 552.5,733.2 560.5,736.0 568.5,734.5 576.5,736.9 584.5,737.5 592.5,737.0 600.5,738.0 608.5,735.5 616.5,745.9 624.5,738.4 632.5,741.6 640.5,739.5 648.5,725.2 656.5,726.0 664.5,713.7 672.5,724.8 680.5,723.4 688.5,719.7 696.5,727.4 704.5,737.4 712.5,737.0 720.5,739.6 728.5,739.7 736.5,742.7 744.5,747.9 752.5,761.2 760.5,758.6 768.5,752.0 776.5,752.6 784.5,755.7 792.5,750.9 800.5,748.9 808.5,748.3 816.5,744.8 824.5,746.7 832.5,735.2 840.5,738.6 848.5,740.8 856.5,733.8 864.5,734.1 872.5,733.6 880.5,736.6 888.5,735.0 896.5,727.8 904.5,726.5 912.5,726.5 920.5,727.9 928.5,724.1 936.5,714.9 944.5,709.5 952.5,703.3 960.5,706.1 968.5,704.9 976.5,699.5 984.5,699.3 992.5,700.7 1000.5,705.1 1008.5,704.6 1016.5,704.4 1024.5,706.8 1032.5,715.0 1040.5,711.0 1048.5,718.7 1056.5,724.2 1064.5,721.8 1072.5,716.6 1080.5,714.9 1088.5,733.5 1096.5,741.7 1104.5,746.5 1112.5,745.8" fill="none" stroke="#1e90ff" stroke-width="1" shape-rendering="crispEdges"/>
<text x="1419" y="684" font-family="Liberation Sans" font-size="9" fill="#000">100</text>
<text x="1419" y="717" font-family="Liberation Sans" font-size="9" fill="#000">70</text>
<text x="1419" y="768" font-family="Liberation Sans" font-size="9" fill="#000">30</text>
<text x="1419" y="800" font-family="Liberation Sans" font-size="9" fill="#000">0</text>
<rect x="0" y="804" width="1" height="3" fill="#000"/>
<text x="-1" y="816" font-family="Liberation Sans" font-size="9.3" fill="#000" stroke="#000" stroke-width="0.1">30 Nov 2018</text>
<rect x="64" y="804" width="1" height="3" fill="#000"/>
<text x="63" y="816" font-family="Liberation Sans" font-size="9.3" fill="#000" stroke="#000" stroke-width="0.1">10 Dec 2018</text>
<rect x="128" y="804" width="1" height="3" fill="#000"/>
<text x="127" y="816" font-family="Liberation Sans" font-size="9.3" fill="#000" stroke="#000" stroke-width="0.1">19 Dec 2018</text>
<rect x="192" y="804" width="1" height="3" fill="#000"/>
<text x="191" y="816" font-family="Liberation Sans" font-size="9.3" fill="#000" stroke="#000" stroke-width="0.1">28 Dec 2018</text>
<rect x="256" y="804" width="1" height="3" fill="#000"/>
<text x="255" y="816" font-family="Liberation Sans" font-size="9.3" fill="#000" stroke="#000" stroke-width="0.1">7 Jan 2019</text>
<rect x="320" y="804" width="1" height="3" fill="#000"/>
<text x="319" y="816" font-family="Liberation Sans" font-size="9.3" fill="#000" stroke="#000" stroke-width="0.1">16 Jan 2019</text>
<rect x="384" y="804" width="1" height="3" fill="#000"/>
<text x="383" y="816" font-family="Liberation Sans" font-size="9.3" fill="#000" stroke="#000" stroke-width="0.1">25 Jan 2019</text>
<rect x="448" y="804" width="1" height="3" fill="#000"/>
<text x="447" y="816" font-family="Liberation Sans" font-size="9.3" fill="#000" stroke="#000" stroke-width="0.1">4 Feb 2019</text>
<rect x="512" y="804" width="1" height="3" fill="#000"/>
<text x="511" y="816" font-family="Liberation Sans" font-size="9.3" fill="#000" stroke="#000" stroke-width="0.1">13 Feb 2019</text>
<rect x="576" y="804" width="1" height="3" fill="#000"/>
<text x="575" y="816" font-family="Liberation Sans" font-size="9.3" fill="#000" stroke="#000" stroke-width="0.1">22 Feb 2019</text>
<rect x="640" y="804" width="1" height="3" fill="#000"/>
<text x="639" y="816" font-family="Liberation Sans" font-size="9.3" fill="#000" stroke="#000" stroke-width="0.1">4 Mar 2019</text>
<rect x="704" y="804" width="1" height="3" fill="#000"/>
<text x="703" y="816" font-family="Liberation Sans" font-size="9.3" fill="#000" stroke="#000" stroke-width="0.1">13 Mar 2019</text>
<rect x="768" y="804" width="1" height="3" fill="#000"/>
<text x="767" y="816" font-family="Liberation Sans" font-size="9.3" fill="#000" stroke="#000" stroke-width="0.1">22 Mar 2019</text>
<rect x="832" y="804" width="1" height="3" fill="#000"/>
<text x="831" y="816" font-family="Liberation Sans" font-size="9.3" fill="#000" stroke="#000" stroke-width="0.1">1 Apr 2019</text>
<rect x="896" y="804" width="1" height="3" fill="#000"/>
<text x="895" y="816" font-family="Liberation Sans" font-size="9.3" fill="#000" stroke="#000" stroke-width="0.1">10 Apr 2019</text>
<rect x="960" y="804" width="1" height="3" fill="#000"/>
<text x="959" y="816" font-family="Liberation Sans" font-size="9.3" fill="#000" stroke="#000" stroke-width="0.1">21 Apr 2019</text>
<rect x="1024" y="804" width="1" height="3" fill="#000"/>
<text x="1023" y="816" font-family="Liberation Sans" font-size="9.3" fill="#000" stroke="#000" stroke-width="0.1">30 Apr 2019</text>
<rect x="1088" y="804" width="1" height="3" fill="#000"/>
<text x="1087" y="816" font-family="Liberation Sans" font-size="9.3" fill="#000" stroke="#000" stroke-width="0.1">9 May 2019</text>
<rect x="0" y="824" width="1458" height="1" fill="#e3e3e3"/>
<rect x="0" y="826" width="1458" height="1" fill="#000"/>
<rect x="0" y="827" width="1458" height="1" fill="#ffffff"/>
<rect x="0" y="828" width="1458" height="18" fill="#f0f0f0"/>
<rect x="0" y="846" width="1458" height="1" fill="#ffffff"/>
<rect x="0" y="847" width="1458" height="3" fill="#f0f0f0"/>
<rect x="0" y="850" width="1458" height="1" fill="#a0a0a0"/>
<rect x="217" y="826" width="108" height="19" fill="#000"/>
<rect x="218" y="825" width="106" height="19" fill="#fff"/>
<text x="12.3" y="841" font-family="Liberation Sans" font-size="12" fill="#6d6d6d" textLength="84.4" lengthAdjust="spacingAndGlyphs">EURUSD-,Daily</text>
<text x="118.7" y="841" font-family="Liberation Sans" font-size="12" fill="#6d6d6d" textLength="84.4" lengthAdjust="spacingAndGlyphs">AUDUSD-,Daily</text>
<text x="229.4" y="841" font-family="Liberation Sans" font-size="12" fill="#000" textLength="83.3" lengthAdjust="spacingAndGlyphs">USDCHF-,Daily</text>
<text x="336.4" y="841" font-family="Liberation Sans" font-size="12" fill="#6d6d6d" textLength="85.6" lengthAdjust="spacingAndGlyphs">USDCAD-,Daily</text>
<text x="445.5" y="841" font-family="Liberation Sans" font-size="12" fill="#6d6d6d" textLength="86.8" lengthAdjust="spacingAndGlyphs">USDCNH-,Daily</text>
<text x="556.4" y="841" font-family="Liberation Sans" font-size="12" fill="#6d6d6d" textLength="96.4" lengthAdjust="spacingAndGlyphs">EURCHF-,Weekly</text>
<rect x="109" y="829" width="1" height="13" fill="#6d6d6d"/>
<rect x="433" y="829" width="1" height="13" fill="#6d6d6d"/>
<rect x="545" y="829" width="1" height="13" fill="#6d6d6d"/>
<rect x="665" y="829" width="1" height="13" fill="#6d6d6d"/>
<polygon points="1434,832 1434,839 1430.5,835.5" fill="#8c8c8c"/>
<polygon points="1450,832 1450,839 1453.5,835.5" fill="#8c8c8c"/></svg></body></html>
